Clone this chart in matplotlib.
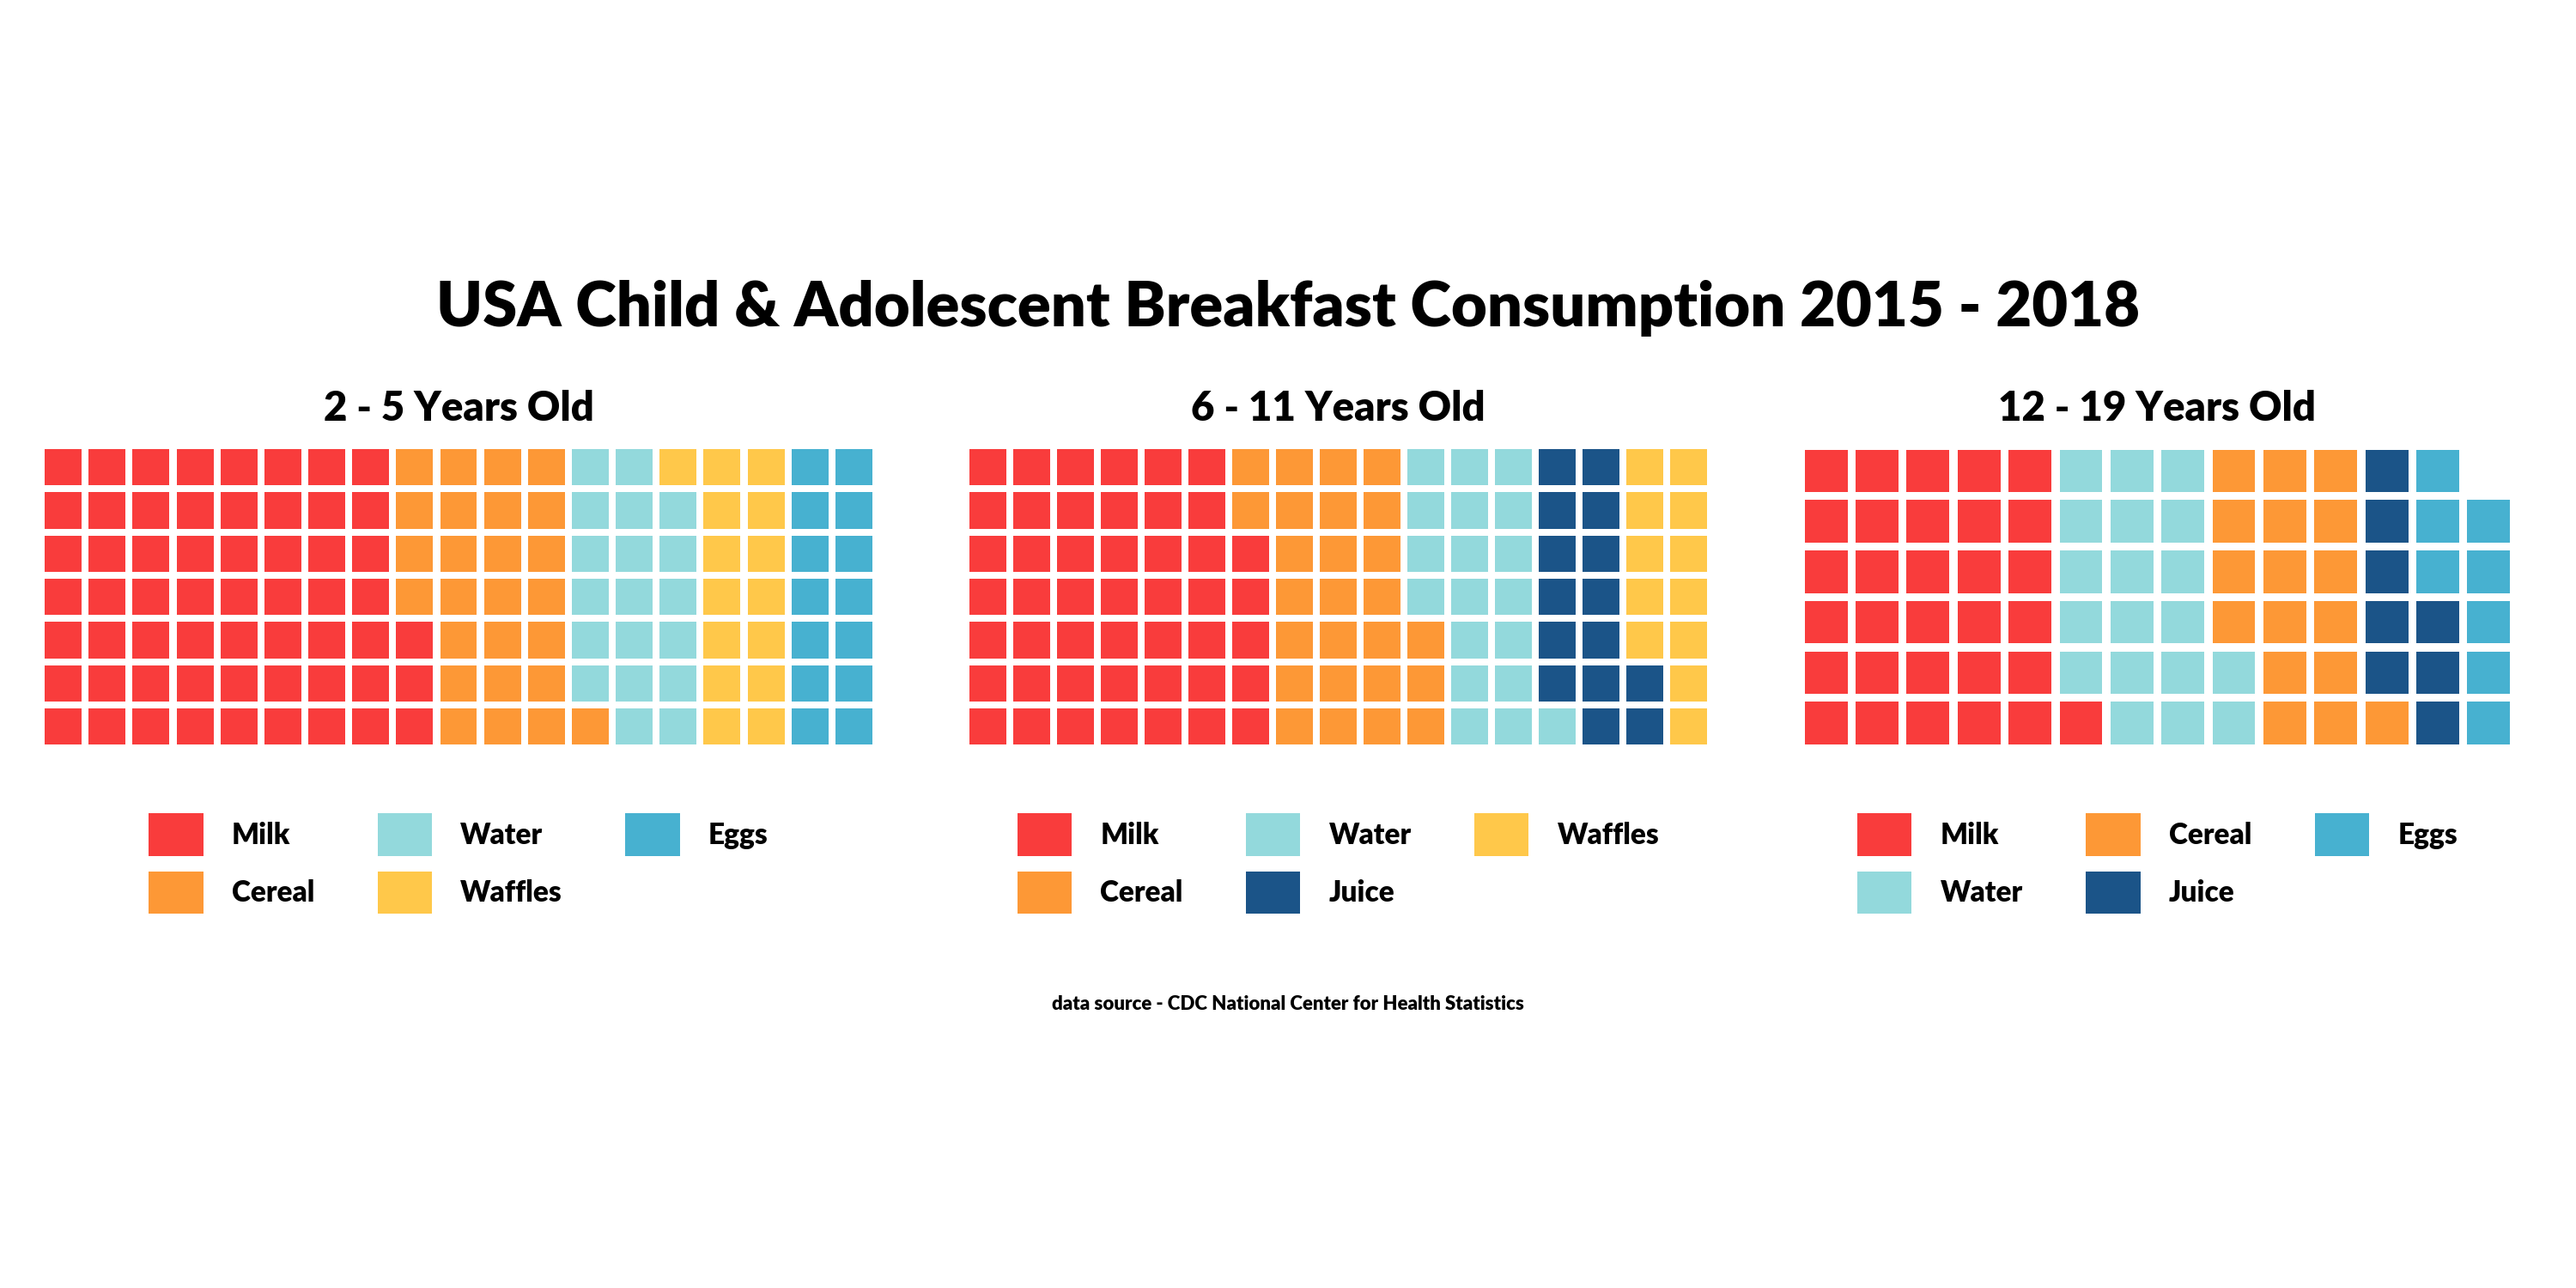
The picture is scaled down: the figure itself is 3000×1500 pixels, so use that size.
import matplotlib.pyplot as plt
from matplotlib.patches import Rectangle, Patch

plt.rcParams['font.family'] = ['Lato', 'DejaVu Sans']
plt.rcParams['font.weight'] = 'heavy'

colors = {'Milk': '#F93C3C', 'Cereal': '#FD9836', 'Water': '#93D9DC',
          'Waffles': '#FFC84A', 'Eggs': '#47B1D0', 'Juice': '#1B5488'}

titles = ['2 - 5 Years Old', '6 - 11 Years Old', '12 - 19 Years Old']
rows = [7, 7, 6]
cats1 = ['Milk', 'Cereal', 'Water', 'Waffles', 'Eggs']
vals1 = [59, 26, 19, 15, 14]
cats2 = ['Milk', 'Cereal', 'Water', 'Juice', 'Waffles']
vals2 = [47, 26, 19, 15, 12]
cats3 = ['Milk', 'Water', 'Cereal', 'Juice', 'Eggs']
vals3 = [31, 19, 17, 8, 8]
panels = [(cats1, vals1), (cats2, vals2), (cats3, vals3)]

fig = plt.figure(figsize=(15, 7.5), dpi=200)
lefts = [0.016, 0.375, 0.699]
rights = [0.340, 0.664, 0.976]

for k, (cats, vals) in enumerate(panels):
    ax = fig.add_axes([lefts[k], 0.419, rights[k] - lefts[k], 0.235])
    nr = rows[k]
    seq = [c for c, v in zip(cats, vals) for _ in range(v)]
    ncols = (len(seq) + nr - 1) // nr
    for i, c in enumerate(seq):
        col, r = divmod(i, nr)
        ax.add_patch(Rectangle((col + 0.08, r + 0.08), 0.84, 0.84,
                               facecolor=colors[c], edgecolor='none'))
    ax.set_xlim(0, ncols)
    ax.set_ylim(0, nr)
    ax.axis('off')
    fig.text((lefts[k] + rights[k]) / 2, 0.683, titles[k], ha='center',
             va='center', fontsize=17, fontweight='heavy')
    handles = [Patch(facecolor=colors[c], edgecolor='none', label=c) for c in cats]
    ax.legend(handles=handles, ncol=3, loc='upper center',
              bbox_to_anchor=(0.5, -0.13), frameon=False, fontsize=12,
              handlelength=1.9, handleheight=1.9, handletextpad=1.0,
              columnspacing=2.2, labelspacing=0.55)

fig.text(0.5, 0.761, 'USA Child & Adolescent Breakfast Consumption 2015 - 2018',
         ha='center', va='center', fontsize=26, fontweight='heavy')
fig.text(0.5, 0.22, 'data source - CDC National Center for Health Statistics',
         ha='center', va='center', fontsize=8, fontweight='heavy')

fig.savefig('out.png', dpi=200, facecolor='white')
